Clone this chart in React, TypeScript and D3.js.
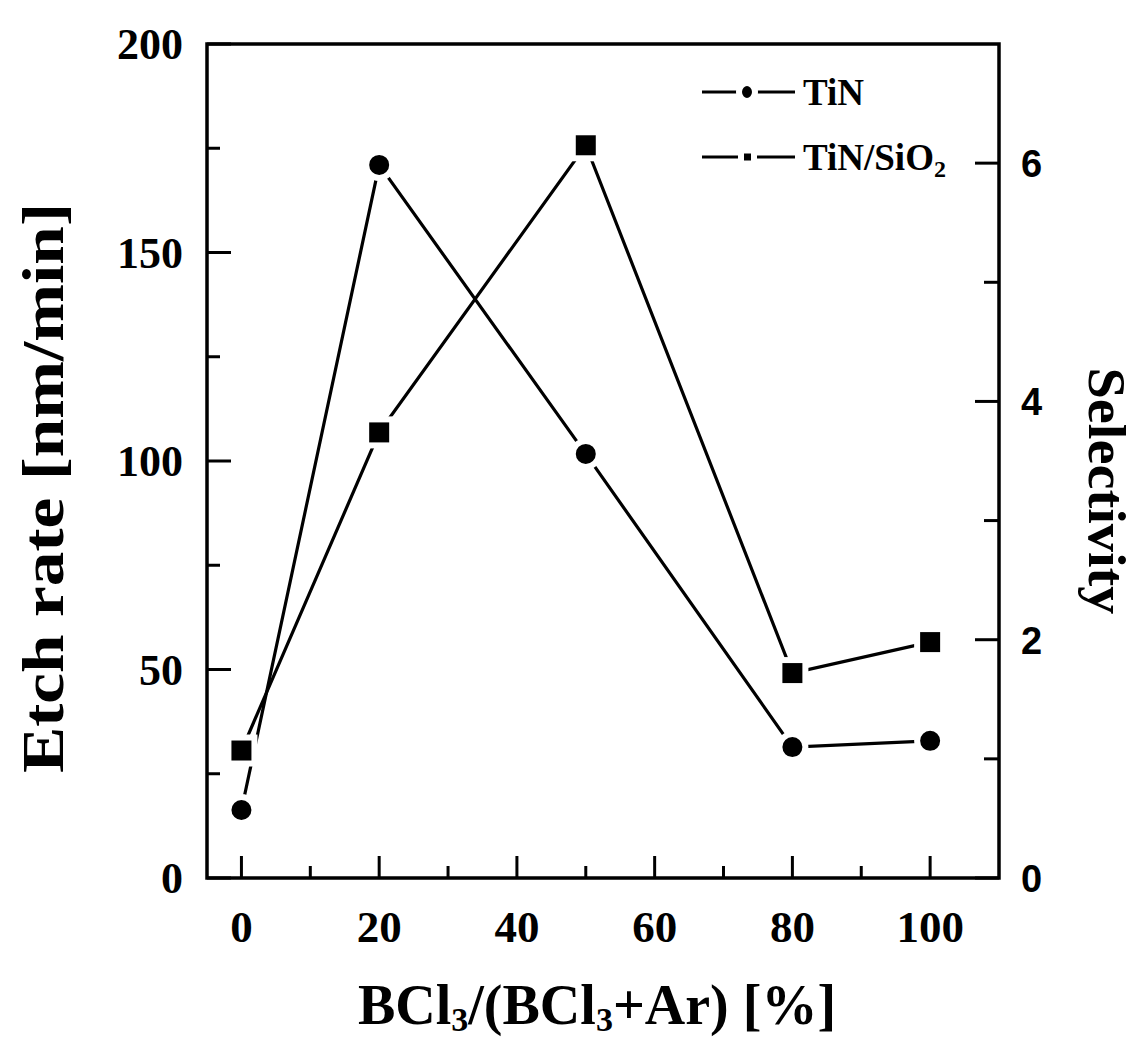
import React from "react";
import * as d3 from "d3";

const xValues = [0, 20, 50, 80, 100];
const tinEtchRate = [16.3, 171, 101.7, 31.4, 32.9];
const selectivity = [1.07, 3.74, 6.15, 1.72, 1.98];
const xMajorTicks = [0, 20, 40, 60, 80, 100];
const xMinorTicks = [10, 30, 50, 70, 90];
const yLeftMajor = [0, 50, 100, 150, 200];
const yLeftMinor = [25, 75, 125, 175];
const yRightMajor = [0, 2, 4, 6];
const yRightMinor = [1, 3, 5];
const legendLabels = ["TiN", "TiN/SiO"];

const W = 1134;
const H = 1039;
const L = 207, R = 999, T = 44, B = 878;

export default function App() {
  const x = d3.scaleLinear().domain([-5, 110]).range([L, R]);
  const yL = d3.scaleLinear().domain([0, 200]).range([B, T]);
  const yR = d3.scaleLinear().domain([0, 7]).range([B, T]);
  const line = d3.line<[number, number]>().x((d) => d[0]).y((d) => d[1]);
  const tinPts: [number, number][] = xValues.map((v, i) => [x(v), yL(tinEtchRate[i])]);
  const selPts: [number, number][] = xValues.map((v, i) => [x(v), yR(selectivity[i])]);
  const serif = "'Liberation Serif', 'DejaVu Serif', serif";
  const sans = "'Liberation Sans', Arial, sans-serif";
  const sq = 26;
  return (
    <svg width={W} height={H} style={{ position: "absolute", left: 0, top: 0, background: "#fff" }}>
      <rect x={0} y={0} width={W} height={H} fill="#fff" />
      {/* frame */}
      <rect x={L} y={T} width={R - L} height={B - T} fill="none" stroke="#000" strokeWidth={3.5} />
      {/* x ticks */}
      {xMajorTicks.map((t) => (
        <line key={"xM" + t} x1={x(t)} x2={x(t)} y1={B} y2={B - 22} stroke="#000" strokeWidth={3} />
      ))}
      {xMinorTicks.map((t) => (
        <line key={"xm" + t} x1={x(t)} x2={x(t)} y1={B} y2={B - 12} stroke="#000" strokeWidth={3} />
      ))}
      {xMajorTicks.map((t) => (
        <text key={"xl" + t} x={x(t)} y={942} textAnchor="middle" fontFamily={serif} fontWeight="bold" fontSize={45}>
          {t}
        </text>
      ))}
      {/* left ticks */}
      {yLeftMajor.map((t) => (
        <line key={"lM" + t} x1={L} x2={L + 24} y1={yL(t)} y2={yL(t)} stroke="#000" strokeWidth={3} />
      ))}
      {yLeftMinor.map((t) => (
        <line key={"lm" + t} x1={L} x2={L + 13} y1={yL(t)} y2={yL(t)} stroke="#000" strokeWidth={3} />
      ))}
      {yLeftMajor.map((t) => (
        <text key={"ll" + t} x={183} y={yL(t) + 15} textAnchor="end" fontFamily={serif} fontWeight="bold" fontSize={44}>
          {t}
        </text>
      ))}
      {/* right ticks */}
      {yRightMajor.map((t) => (
        <line key={"rM" + t} x1={R} x2={R - 24} y1={yR(t)} y2={yR(t)} stroke="#000" strokeWidth={3} />
      ))}
      {yRightMinor.map((t) => (
        <line key={"rm" + t} x1={R} x2={R - 15} y1={yR(t)} y2={yR(t)} stroke="#000" strokeWidth={3} />
      ))}
      {yRightMajor.map((t) => (
        <text key={"rl" + t} x={1021} y={yR(t) + 14} textAnchor="start" fontFamily={sans} fontWeight="bold" fontSize={38}>
          {t}
        </text>
      ))}
      {/* axis titles */}
      <text
        transform={`translate(63, 488) rotate(-90)`}
        textAnchor="middle"
        fontFamily={serif}
        fontWeight="bold"
        fontSize={60}
        textLength={570}
        lengthAdjust="spacingAndGlyphs"
      >
        Etch rate [nm/min]
      </text>
      <text
        transform={`translate(1089, 491) rotate(90)`}
        textAnchor="middle"
        fontFamily={serif}
        fontWeight="bold"
        fontSize={52}
        textLength={247}
        lengthAdjust="spacingAndGlyphs"
      >
        Selectivity
      </text>
      <text x={597} y={1024} textAnchor="middle" fontFamily={serif} fontWeight="bold" fontSize={56}>
        BCl<tspan baselineShift="-20%" fontSize={34}>3</tspan>/(BCl
        <tspan baselineShift="-20%" fontSize={34}>3</tspan>+Ar) [%]
      </text>
      {/* data lines */}
      <path d={line(tinPts) || ""} fill="none" stroke="#000" strokeWidth={3.2} />
      <path d={line(selPts) || ""} fill="none" stroke="#000" strokeWidth={3.2} />
      {tinPts.map((p, i) => (
        <circle key={"c" + i} cx={p[0]} cy={p[1]} r={13} fill="#000" stroke="#fff" strokeWidth={6} />
      ))}
      {selPts.map((p, i) => (
        <rect
          key={"s" + i}
          x={p[0] - sq / 2}
          y={p[1] - sq / 2}
          width={sq}
          height={sq}
          fill="#000"
          stroke="#fff"
          strokeWidth={6}
        />
      ))}
      {/* legend */}
      {legendLabels.map((lab, i) => {
        const ly = i === 0 ? 92 : 157;
        return (
          <g key={"lg" + i}>
            <line x1={702} x2={795} y1={ly} y2={ly} stroke="#000" strokeWidth={3} />
            {i === 0 ? (
              <ellipse cx={747} cy={ly} rx={8} ry={9} fill="#000" stroke="#fff" strokeWidth={6} />
            ) : (
              <rect x={741} y={ly - 6.5} width={13} height={13} fill="#000" stroke="#fff" strokeWidth={6} />
            )}
            <text x={803} y={ly + 13} fontFamily={serif} fontWeight="bold" fontSize={37}>
              {lab}
              {i === 1 ? <tspan baselineShift="-30%" fontSize={24}>2</tspan> : null}
            </text>
          </g>
        );
      })}
    </svg>
  );
}
